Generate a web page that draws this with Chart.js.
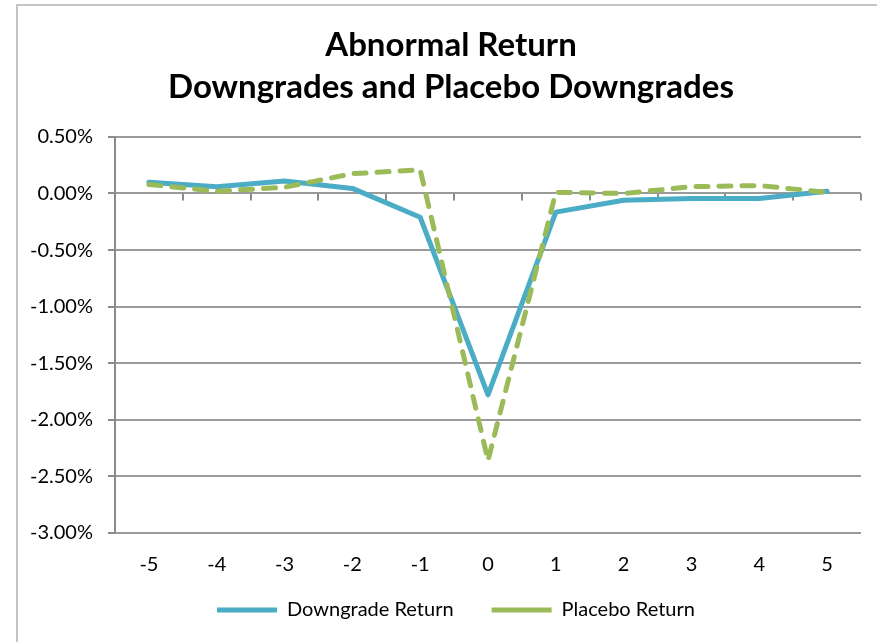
<!DOCTYPE html>
<html>
<head>
<meta charset="utf-8">
<title>Abnormal Return</title>
<script src="https://cdn.jsdelivr.net/npm/chart.js@4.4.1/dist/chart.umd.min.js"></script>
<style>
  html, body { margin: 0; padding: 0; background: #ffffff; }
  #frame {
    position: absolute; left: 16px; top: 4px; width: 900px; height: 700px;
    border-left: 2px solid #c4c4c4; border-top: 2px solid #c4c4c4;
  }
  #wrap { position: absolute; left: 0; top: 0; width: 877px; height: 642px; }
</style>
</head>
<body>
<div id="frame"></div>
<div id="wrap"><canvas id="chart" width="877" height="642"></canvas></div>
<script>
// Event window (days relative to the rating announcement)
const eventDays = ['-5', '-4', '-3', '-2', '-1', '0', '1', '2', '3', '4', '5'];

// Mean abnormal returns, in percent
const downgradeReturn = [0.10, 0.06, 0.11, 0.045, -0.21, -1.78, -0.165, -0.06, -0.045, -0.045, 0.02];
const placeboReturn   = [0.08, 0.02, 0.055, 0.175, 0.21, -2.36, 0.01, 0.00, 0.06, 0.07, 0.01];

// Value axis range and step, in percent
const yMin = -3.0;
const yMax = 0.5;
const yStep = 0.5;

const titleLines = ['Abnormal Return', 'Downgrades and Placebo Downgrades'];
const seriesNames = ['Downgrade Return', 'Placebo Return'];

const BLUE = '#4BACC6';
const GREEN = '#9BBB59';
const AXIS_GREY = '#8c8c8c';
const GRID_GREY = '#9a9a9a';
const FONT = 'Lato, "Open Sans", sans-serif';

const PLOT_BOTTOM = 533;     // bottom edge of the plotting area
const TITLE_CENTER_X = 451;  // horizontal centre of the two title lines
const LEGEND_START_X = 217;  // left end of the first legend line
const LEGEND_CENTER_Y = 610; // vertical centre of the legend row

// Short tick marks hanging from the zero line at every category boundary
const zeroLineTicks = {
  id: 'zeroLineTicks',
  beforeDatasetsDraw(chart) {
    const xs = chart.scales.x, ys = chart.scales.y, ctx = chart.ctx;
    const y0 = ys.getPixelForValue(0);
    ctx.save();
    ctx.strokeStyle = AXIS_GREY;
    ctx.lineWidth = 2;
    ctx.beginPath();
    for (let i = 0; i < eventDays.length; i++) {
      const x = Math.round(xs.getPixelForValue(i + 0.5));
      ctx.moveTo(x, y0);
      ctx.lineTo(x, y0 + 7);
    }
    ctx.stroke();
    ctx.restore();
  }
};

// Centre the title over the chart and put the legend row under the axis labels
const blockPlacement = {
  id: 'blockPlacement',
  afterLayout(chart) {
    const t = chart.titleBlock;
    if (t) {
      const dx = TITLE_CENTER_X - (t.left + t.right) / 2;
      t.left += dx; t.right += dx;
    }
    const lg = chart.legend;
    if (lg) {
      const lab = lg.options.labels;
      const dx = (LEGEND_START_X - lab.padding) - lg.left;
      lg.left += dx; lg.right += dx;
      const dy = LEGEND_CENTER_Y - (lg.top + lab.padding + lab.font.size / 2);
      lg.top += dy; lg.bottom += dy;
    }
  }
};

new Chart(document.getElementById('chart'), {
  type: 'line',
  data: {
    labels: eventDays,
    datasets: [
      {
        label: seriesNames[0],
        data: downgradeReturn,
        borderColor: BLUE,
        backgroundColor: BLUE,
        borderWidth: 5,
        borderCapStyle: 'round',
        borderJoinStyle: 'round',
        pointRadius: 0,
        tension: 0,
        order: 1
      },
      {
        label: seriesNames[1],
        data: placeboReturn,
        borderColor: GREEN,
        backgroundColor: GREEN,
        borderWidth: 5,
        borderDash: [12, 11],
        borderCapStyle: 'round',
        borderJoinStyle: 'round',
        pointRadius: 0,
        tension: 0,
        order: 0
      }
    ]
  },
  options: {
    responsive: false,
    devicePixelRatio: 1,
    animation: false,
    layout: { padding: { left: 0, right: 16, top: 0, bottom: 0 } },
    plugins: {
      title: {
        display: true,
        text: titleLines,
        color: '#000000',
        font: { family: FONT, size: 33, weight: 'bold', lineHeight: 1.3 },
        padding: { top: 23.5, bottom: 27.6 }
      },
      legend: {
        display: true,
        position: 'bottom',
        align: 'start',
        reverse: true,
        labels: {
          usePointStyle: true,
          pointStyle: 'line',
          pointStyleWidth: 60,
          padding: 38,
          color: '#000000',
          font: { family: FONT, size: 20 }
        }
      },
      tooltip: { enabled: false }
    },
    scales: {
      x: {
        type: 'category',
        offset: true,
        grid: { display: false, drawTicks: false },
        border: { display: false },
        ticks: {
          padding: 20,
          color: '#000000',
          font: { family: FONT, size: 20 },
          maxRotation: 0
        },
        afterFit(scale) {
          const lg = scale.chart.legend;
          scale.height = scale.chart.height - PLOT_BOTTOM - (lg ? lg.height : 0);
        }
      },
      y: {
        min: yMin,
        max: yMax,
        grid: {
          color: GRID_GREY,
          lineWidth: 2,
          drawTicks: true,
          tickLength: 7,
          tickColor: AXIS_GREY
        },
        border: { display: true, color: AXIS_GREY, width: 2 },
        ticks: {
          stepSize: yStep,
          padding: 15,
          color: '#000000',
          font: { family: FONT, size: 20 },
          callback: (v) => Number(v).toFixed(2) + '%'
        },
        afterFit(scale) { scale.width = 115; }
      }
    }
  },
  plugins: [zeroLineTicks, blockPlacement]
});
</script>
</body>
</html>
